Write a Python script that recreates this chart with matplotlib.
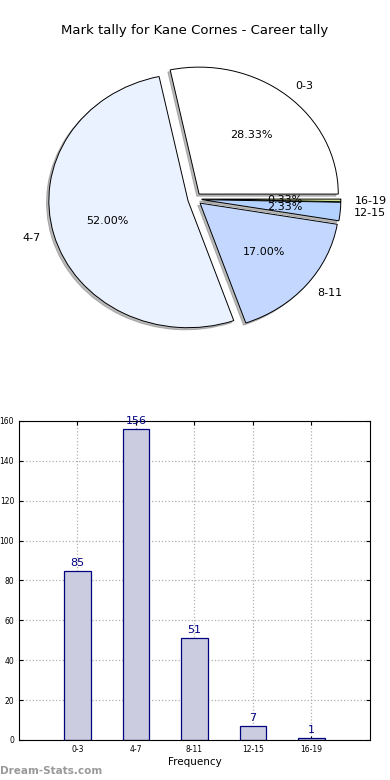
import matplotlib
matplotlib.use("Agg")
import matplotlib.pyplot as plt

categories = ["0-3", "4-7", "8-11", "12-15", "16-19"]
counts = [85, 156, 51, 7, 1]
pie_colors = ["#ffffff", "#eaf1ff", "#c4d8ff", "#b4d2ff", "#c8e08a"]

fig = plt.figure(figsize=(3.9, 7.8), dpi=100)
fig.text(0.5, 0.961, "Mark tally for Kane Cornes - Career tally",
         ha="center", va="center", fontsize=9.5)

# ---- Pie ----
axp = fig.add_axes([0.04, 0.5365, 0.91, 0.4167])
wedges, texts, autotexts = axp.pie(
    counts, labels=categories, colors=pie_colors, explode=[0.05] * len(counts),
    autopct="%1.2f%%", shadow=dict(ox=-0.012, oy=-0.012, color="#777777"),
    startangle=0,
    wedgeprops=dict(edgecolor="black", linewidth=0.7),
    textprops=dict(fontsize=8))
axp.set_aspect("auto")
axp.set_xlim(-1.287, 1.263)
axp.set_ylim(-1.28, 1.28)
axp.axis("off")

# ---- Bars ----
axb = fig.add_axes([0.0487, 0.0513, 0.9, 0.409])
xs = list(range(len(categories)))
axb.bar(xs, counts, width=0.45, color="#ccccE0", edgecolor="navy",
        linewidth=0.9, zorder=2)
for x, v in zip(xs, counts):
    axb.text(x, v + 1.5, str(v), ha="center", va="bottom", fontsize=8,
             color="navy")
axb.set_xlim(-1, 5)
axb.set_ylim(0, 160)
axb.set_xticks(xs)
axb.set_xticklabels(categories)
axb.set_yticks(range(0, 161, 20))
axb.tick_params(labelsize=5.5, direction="in", top=True, right=True, length=3)
axb.grid(True, linestyle=":", color="#b0b0b0", linewidth=0.9, zorder=0)
axb.set_axisbelow(True)
axb.set_xlabel("Frequency", fontsize=7.5, labelpad=2)

fig.text(0.0, 0.012, "Dream-Stats.com", fontsize=7.5, color="#999999",
         fontweight="bold", ha="left", va="center")

fig.savefig("out.png", dpi=100)
